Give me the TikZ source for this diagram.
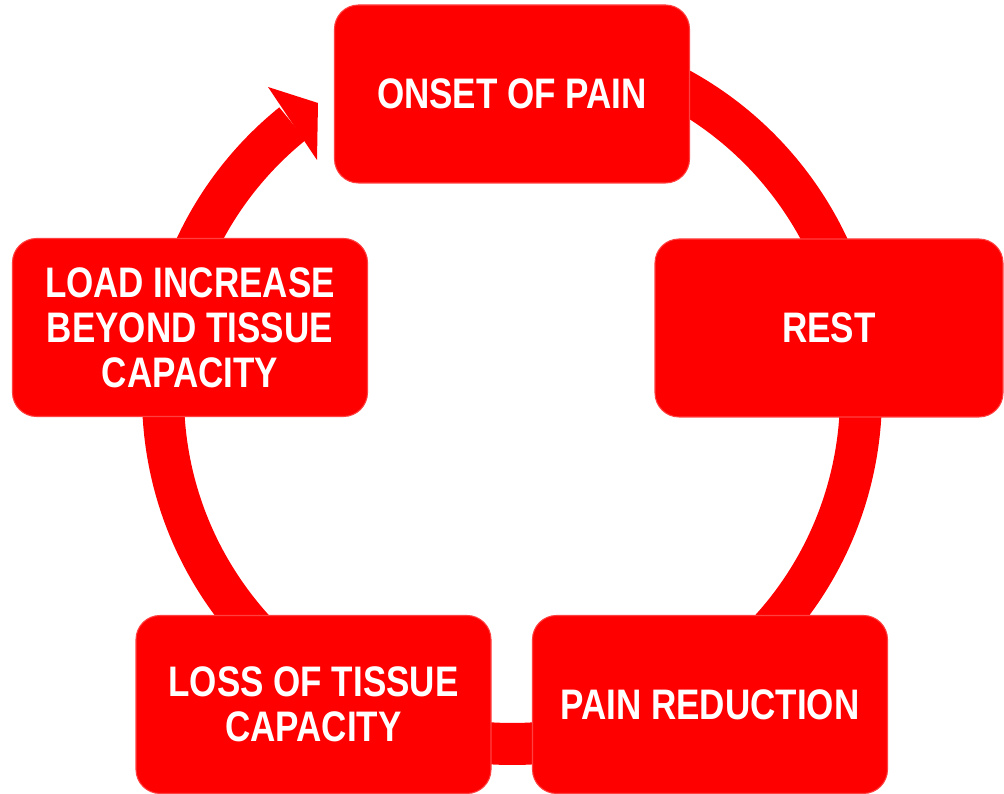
\documentclass[tikz,border=0pt]{standalone}
\usepackage{fontspec}
\setmainfont{Liberation Sans}[FakeStretch=0.82]
\usepackage{xcolor}
\usepackage{tikz}
\usetikzlibrary{positioning,calc}
\definecolor{cyclered}{RGB}{255,0,0}
\tikzset{
  ring/.style={draw=cyclered, line width=0.84cm},
  every node/.style={anchor=center}
}

\begin{document}
\begin{tikzpicture}[
    font=\fontsize{24.3}{25.6}\selectfont\bfseries,
    stage/.style={rounded corners=0.48cm, fill=cyclered, draw=cyclered!75!white,
      line width=0.6pt, text=white, align=center,
      minimum width=7.1cm, minimum height=3.56cm, inner sep=0pt},
    head/.style={fill=cyclered, draw=none}
  ]
  \useasboundingbox (0,0) rectangle (20.08,15.88);

  % ring behind the boxes
  \coordinate (hub) at (10.24,7.98);
  \draw[ring] (hub) ++(-231.04:6.98) arc[start angle=-231.04, end angle=90, radius=6.98];

  % arrow head pointing at the first stage
  \coordinate (headA) at (5.36,14.14);
  \coordinate (headB) at (6.36,13.82);
  \coordinate (headC) at (6.34,12.68);
  \fill[head] (headA) -- (headB) -- (headC) -- cycle;

  % stages of the cycle
  \node[stage] (onset)   at (10.24,14.00) {ONSET OF PAIN};
  \node[stage, minimum width=6.96cm] (rest) at (16.58,9.32) {REST};
  \node[stage] (painred) at (14.20,1.79) {PAIN REDUCTION};
  \node[stage] (loss)    at (6.27,1.79) {LOSS OF TISSUE\\CAPACITY};
  \node[stage] (load)    at (3.80,9.33) {LOAD INCREASE\\BEYOND TISSUE\\CAPACITY};

\end{tikzpicture}
\end{document}
